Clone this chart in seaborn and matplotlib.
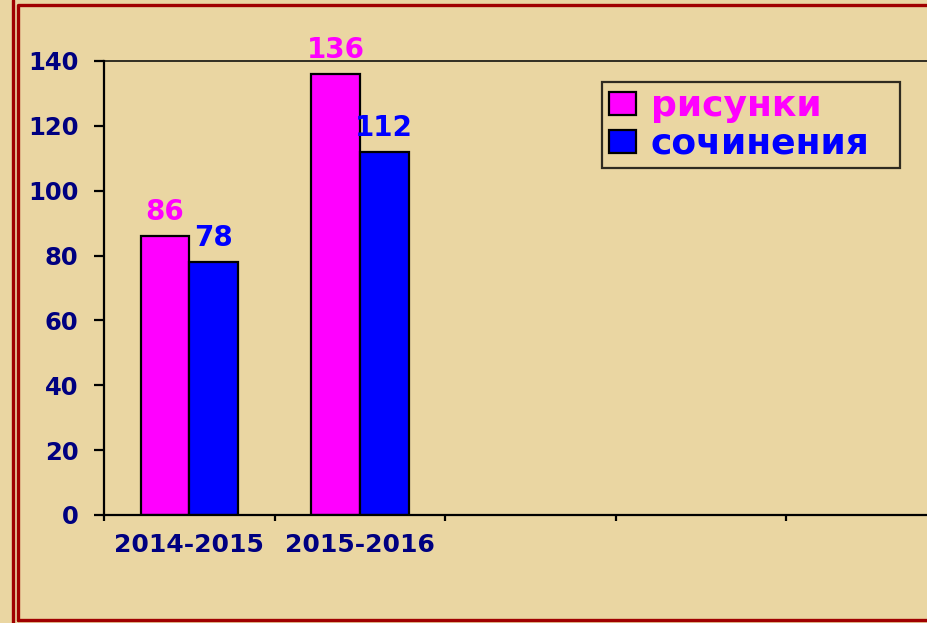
import pandas as pd
import seaborn as sns
import matplotlib.pyplot as plt
from matplotlib.lines import Line2D
from matplotlib.ticker import FixedLocator

# data
years = ["2014-2015", "2015-2016"]
drawings = [86, 136]   # рисунки
essays = [78, 112]     # сочинения
series_names = ["рисунки", "сочинения"]
y_ticks = [0, 20, 40, 60, 80, 100, 120, 140]

df = pd.DataFrame({
    "year": years * 2,
    "kind": [series_names[0]] * len(years) + [series_names[1]] * len(years),
    "count": drawings + essays,
})

sns.set_theme(style="white")
plt.rcParams['font.family'] = ['DejaVu Sans']
plt.rcParams['font.weight'] = 'bold'

bg = "#EAD6A2"
navy = "#000080"
colors = {"рисунки": "#FF00FF", "сочинения": "#0000FF"}

fig = plt.figure(figsize=(9.28, 6.23), dpi=100, facecolor=bg)
W, H = 928, 623
ax = fig.add_axes([104 / W, 1 - 515 / H, (957 - 104) / W, (515 - 61) / H])
ax.set_facecolor("none")

sns.barplot(data=df, x="year", y="count", hue="kind", palette=colors,
            saturation=1, width=0.57, edgecolor="black", linewidth=1.6,
            ax=ax, legend=True)

# value labels above each bar
for cont, name in zip(ax.containers, series_names):
    ax.bar_label(cont, color=colors[name], fontsize=20, fontweight="bold", padding=7)

# five category slots like the original, only two of them filled
ax.set_xlim(-0.5, 4.5)
ax.set_ylim(0, 140)
ax.set_yticks(y_ticks)
ax.set_xlabel("")
ax.set_ylabel("")

ax.xaxis.set_major_locator(FixedLocator([-0.5, 0.5, 1.5, 2.5, 3.5, 4.5]))
ax.xaxis.set_minor_locator(FixedLocator([0, 1]))
ax.xaxis.set_major_formatter(plt.NullFormatter())
ax.set_xticklabels(years, minor=True)
ax.tick_params(axis="x", which="major", direction="out", length=4.5, width=1.6,
               color="black", bottom=True)
ax.tick_params(axis="x", which="minor", length=0, pad=13, labelsize=18,
               labelcolor=navy)
ax.tick_params(axis="y", direction="out", length=7.5, width=1.6, color="black",
               left=True, pad=11, labelsize=17.5, labelcolor=navy)
for lab in ax.get_xticklabels(minor=True) + ax.get_yticklabels():
    lab.set_fontweight("bold")

for side in ["left", "bottom", "top"]:
    ax.spines[side].set_visible(True)
    ax.spines[side].set_color("black")
    ax.spines[side].set_linewidth(1.6)
ax.spines["top"].set_linewidth(1.1)
ax.spines["right"].set_visible(False)

# legend box top right, stretched to the original box width
handles = [plt.Rectangle((0, 0), 1, 1, facecolor=colors[n], edgecolor="black", linewidth=1.6)
           for n in series_names]
ax.get_legend().remove()
leg = fig.legend(handles, series_names, loc="upper left",
                 bbox_to_anchor=(602 / W, 1 - 166 / H, 298 / W, 84 / H),
                 mode="expand", borderaxespad=0,
                 frameon=True, fancybox=False, edgecolor="black", facecolor="none",
                 prop={"size": 26, "weight": "bold"}, handlelength=0.75,
                 handleheight=0.6, handletextpad=0.4, labelspacing=0.1,
                 borderpad=0.2)
leg.get_frame().set_linewidth(1.6)
for txt, n in zip(leg.get_texts(), series_names):
    txt.set_color(colors[n])

# dark red double frame
red = "#A00000"
fig.add_artist(Line2D([13.5 / W, 13.5 / W], [0, 1], transform=fig.transFigure,
                      color=red, linewidth=2.4))
fig.add_artist(Line2D([18 / W, 18 / W, 1.0], [1 - 620 / H, 1 - 4.5 / H, 1 - 4.5 / H],
                      transform=fig.transFigure, color=red, linewidth=2.4))
fig.add_artist(Line2D([18 / W, 1.0], [1 - 620 / H, 1 - 620 / H],
                      transform=fig.transFigure, color=red, linewidth=2.4))

fig.savefig("out.png", dpi=100, facecolor=bg)
